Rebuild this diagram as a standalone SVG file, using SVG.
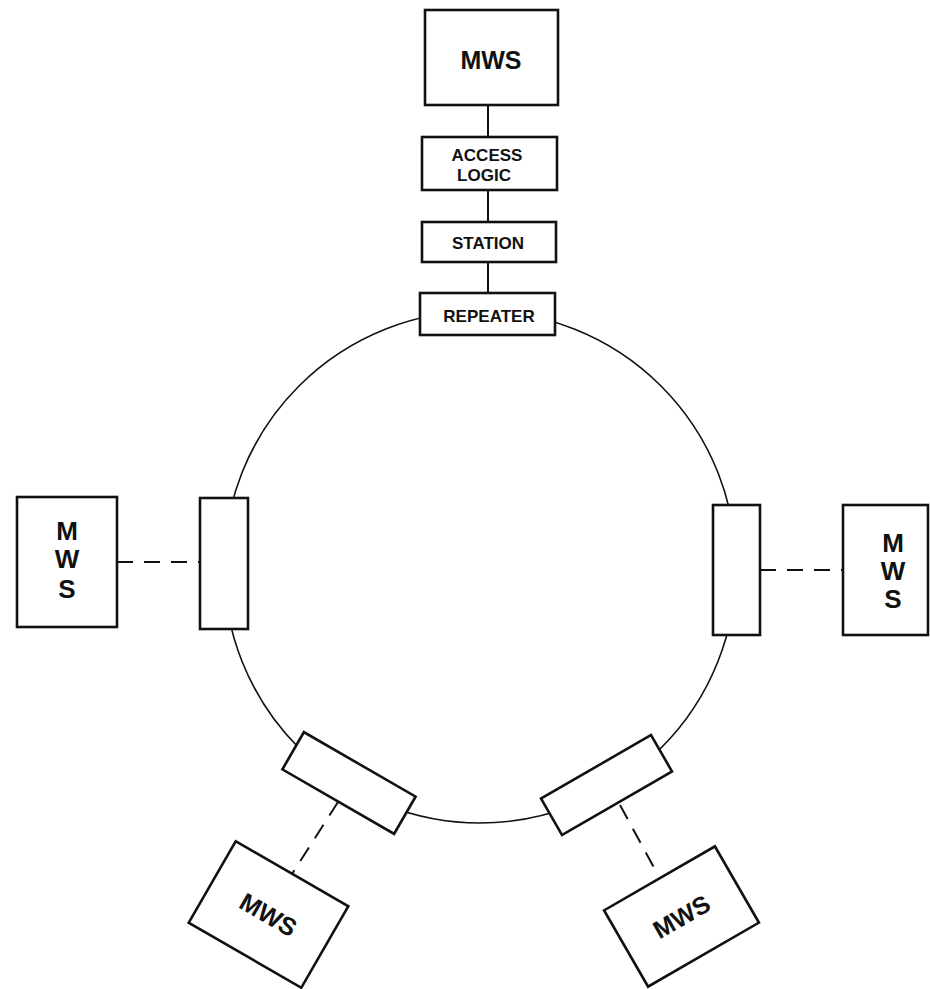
<svg xmlns="http://www.w3.org/2000/svg" width="930" height="989" viewBox="0 0 930 989">
<style>
.box{fill:#fff;stroke:#111;stroke-width:2.6}
.ring{fill:none;stroke:#111;stroke-width:1.6}
.link{stroke:#111;stroke-width:2;fill:none}
.dash{stroke:#111;stroke-width:2;fill:none;stroke-dasharray:16 11}
.t{font-family:"Liberation Sans",Arial,sans-serif;font-weight:bold;fill:#111;text-anchor:middle}
</style>
<rect width="930" height="989" fill="#fff"/>
<circle class="ring" cx="480" cy="567" r="256"/>
<g id="connectors">
<line class="link" x1="488" y1="105" x2="488" y2="137"/>
<line class="link" x1="488" y1="190" x2="488" y2="222"/>
<line class="link" x1="488" y1="262" x2="488" y2="293"/>
<line class="dash" x1="117" y1="562" x2="200" y2="562"/>
<line class="dash" x1="760" y1="570" x2="843" y2="570"/>
<line class="dash" x1="338" y1="802" x2="292" y2="874"/>
<line class="dash" x1="620" y1="805" x2="658" y2="875"/>
</g>
<g id="mws-top">
<rect class="box" x="425" y="10" width="133" height="95"/>
<text class="t" x="491" y="69" font-size="25">MWS</text>
</g>
<g id="access-logic">
<rect class="box" x="422" y="137" width="135" height="53"/>
<text class="t" x="487" y="161" font-size="17">ACCESS</text>
<text class="t" x="484" y="181" font-size="17">LOGIC</text>
</g>
<g id="station">
<rect class="box" x="422" y="222" width="134" height="40"/>
<text class="t" x="488" y="249" font-size="17">STATION</text>
</g>
<g id="repeater-top">
<rect class="box" x="420" y="293" width="135" height="42"/>
<text class="t" x="489" y="322" font-size="17">REPEATER</text>
</g>
<g id="repeater-left">
<rect class="box" x="200" y="498" width="48" height="131"/>
</g>
<g id="mws-left">
<rect class="box" x="17" y="497" width="100" height="130"/>
<text class="t" x="67" y="540" font-size="26">M</text>
<text class="t" x="67" y="568" font-size="26">W</text>
<text class="t" x="67" y="598" font-size="26">S</text>
</g>
<g id="repeater-right">
<rect class="box" x="713" y="505" width="47" height="130"/>
</g>
<g id="mws-right">
<rect class="box" x="843" y="505" width="85" height="130"/>
<text class="t" x="893" y="552" font-size="26">M</text>
<text class="t" x="893" y="580" font-size="26">W</text>
<text class="t" x="893" y="608" font-size="26">S</text>
</g>
<g id="repeater-bottom-left" transform="translate(349,783) rotate(30)">
<rect class="box" x="-64.5" y="-21.5" width="129" height="43"/>
</g>
<g id="mws-bottom-left" transform="translate(268.5,914.5) rotate(30)">
<rect class="box" x="-65" y="-47" width="130" height="94"/>
<text class="t" x="0" y="9" font-size="25">MWS</text>
</g>
<g id="repeater-bottom-right" transform="translate(606.5,785) rotate(-30)">
<rect class="box" x="-63.5" y="-21" width="127" height="42"/>
</g>
<g id="mws-bottom-right" transform="translate(681.5,916.5) rotate(-30)">
<rect class="box" x="-64" y="-44" width="128" height="88"/>
<text class="t" x="0" y="9" font-size="25">MWS</text>
</g>
</svg>
